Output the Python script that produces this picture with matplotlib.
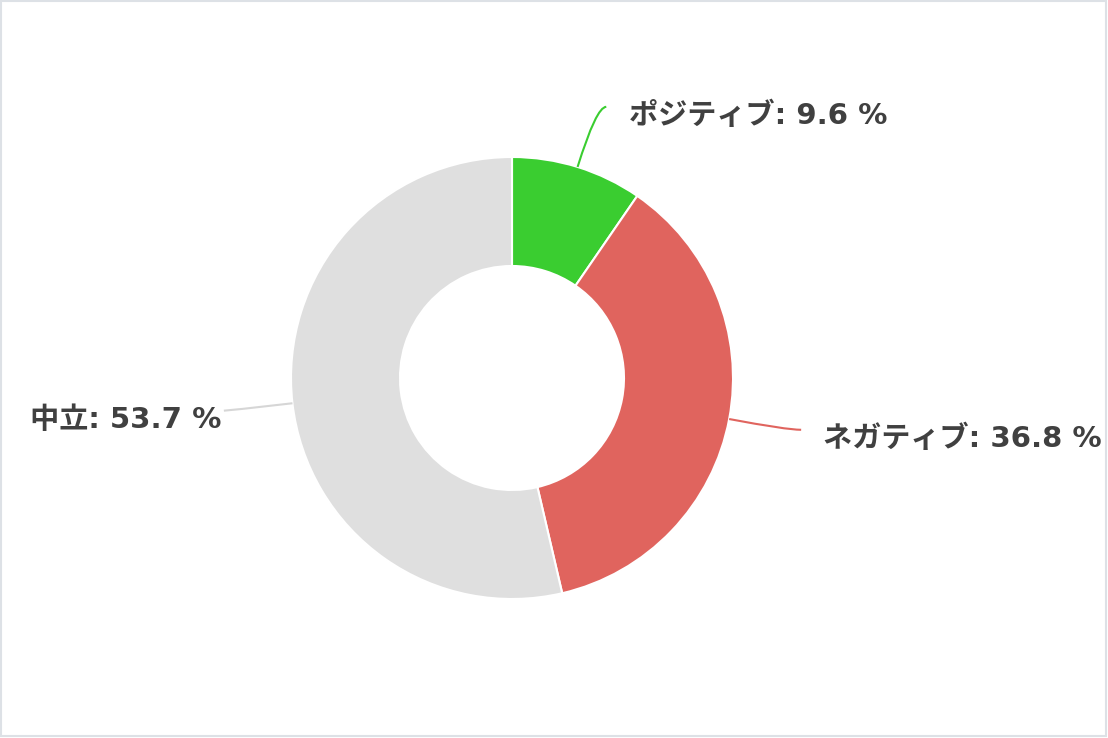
import matplotlib.pyplot as plt
from matplotlib.patches import Rectangle, PathPatch
from matplotlib.path import Path
import numpy as np

labels = ['ポジティブ', 'ネガティブ', '中立']
values = [9.6, 36.8, 53.7]
colors = ['#3acd30', '#e0645e', '#dfdfdf']

W, H = 1108, 738
fig = plt.figure(figsize=(W / 100, H / 100), dpi=100)
ax = fig.add_axes([0, 0, 1, 1])
ax.set_xlim(0, W)
ax.set_ylim(0, H)
ax.set_aspect('equal')
ax.axis('off')

cx, cy = 512, H - 378
R, r_in = 221, 112

wedges, _ = ax.pie(values, colors=colors, startangle=90, counterclock=False,
                   radius=R, center=(cx, cy), normalize=True,
                   wedgeprops=dict(width=R - r_in, edgecolor='white', linewidth=1.5))
ax.set_xlim(0, W)
ax.set_ylim(0, H)

# labels with connectors
dist = [63, 58, 65]
ext = [10, 15, 4]
pad = [23, 22, 2]
for w, lab, v, col, d, e, p in zip(wedges, labels, values, colors, dist, ext, pad):
    a = np.deg2rad((w.theta1 + w.theta2) / 2)
    p0 = (cx + R * np.cos(a), cy + R * np.sin(a))
    elbow = (cx + (R + d) * np.cos(a), cy + (R + d) * np.sin(a))
    side = 1 if np.cos(a) >= 0 else -1
    p2 = (elbow[0] + side * e, elbow[1])
    path = Path([p0, elbow, p2], [Path.MOVETO, Path.CURVE3, Path.CURVE3])
    ax.add_patch(PathPatch(path, fill=False, edgecolor=col if col != '#dfdfdf' else '#d6d6d6', lw=1.5))
    ax.text(p2[0] + side * p, p2[1] - 9, f'{lab}: {v} %',
            ha='left' if side > 0 else 'right', va='center',
            fontsize=21, fontweight='bold', color='#404040',
            family=['DejaVu Sans', 'Noto Sans CJK JP'])

fig.patches.append(Rectangle((1 / W, 2 / H), 1 - 3 / W, 1 - 3 / H, transform=fig.transFigure,
                             fill=False, edgecolor='#dde1e6', lw=1.5))

fig.savefig('out.png', dpi=100)
